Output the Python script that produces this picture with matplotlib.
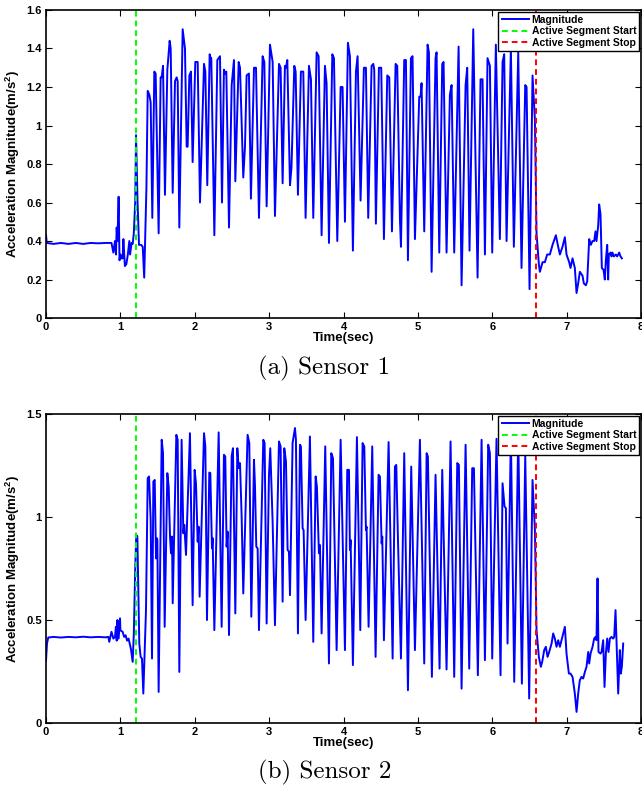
import matplotlib
matplotlib.use('Agg')
from matplotlib import pyplot as plt

plt.rcParams['font.family'] = ['Liberation Sans Narrow', 'Liberation Sans', 'DejaVu Sans']
plt.rcParams['mathtext.default'] = 'regular'

# segment markers (sec)
seg_start = 1.21
seg_stop = 6.585

# sensor 1: time (sec) and magnitude (m/s^2)
t1 = [0.0, 0.01, 0.1, 0.2, 0.3, 0.4, 0.5, 0.6, 0.7, 0.8, 0.88, 0.905, 0.927, 0.94, 0.95,
      0.96, 0.976, 0.988, 1.0, 1.01, 1.03, 1.04, 1.06, 1.08, 1.10, 1.12, 1.13, 1.15, 1.165,
      1.18, 1.20, 1.21, 1.23, 1.25, 1.28, 1.30, 1.32, 1.35, 1.367, 1.389, 1.407, 1.429,
      1.456, 1.474, 1.514, 1.541, 1.555, 1.573, 1.599, 1.631, 1.662, 1.676, 1.703, 1.734,
      1.756, 1.770, 1.792, 1.837, 1.868, 1.891, 1.904, 1.927, 1.949, 1.971, 2.007, 2.039,
      2.070, 2.092, 2.124, 2.142, 2.168, 2.200, 2.213, 2.222, 2.263, 2.303, 2.339, 2.366,
      2.392, 2.410, 2.424, 2.460, 2.496, 2.527, 2.545, 2.590, 2.608, 2.652, 2.675, 2.697,
      2.728, 2.755, 2.796, 2.823, 2.863, 2.912, 2.935, 2.966, 3.011, 3.047, 3.078, 3.132,
      3.154, 3.181, 3.212, 3.226, 3.244, 3.280, 3.300, 3.338, 3.356, 3.387, 3.427, 3.459,
      3.490, 3.535, 3.562, 3.593, 3.638, 3.665, 3.705, 3.750, 3.772, 3.804, 3.849, 3.871,
      3.916, 3.961, 3.987, 4.019, 4.059, 4.086, 4.126, 4.167, 4.189, 4.229, 4.274, 4.301,
      4.332, 4.377, 4.400, 4.413, 4.435, 4.476, 4.507, 4.543, 4.588, 4.615, 4.651, 4.700,
      4.722, 4.758, 4.772, 4.816, 4.839, 4.866, 4.906, 4.928, 4.960, 5.018, 5.036, 5.049,
      5.085, 5.130, 5.148, 5.184, 5.237, 5.251, 5.287, 5.327, 5.345, 5.385, 5.430, 5.453,
      5.488, 5.547, 5.587, 5.641, 5.663, 5.694, 5.744, 5.802, 5.842, 5.869, 5.901, 5.936,
      5.968, 5.999, 6.048, 6.102, 6.138, 6.160, 6.192, 6.250, 6.290, 6.349, 6.393, 6.443,
      6.461, 6.501, 6.541, 6.573, 6.595, 6.626, 6.640, 6.676, 6.707, 6.738, 6.774, 6.810,
      6.855, 6.886, 6.909, 6.944, 6.976, 6.998, 7.034, 7.052, 7.079, 7.110, 7.133, 7.155,
      7.177, 7.213, 7.231, 7.258, 7.276, 7.303, 7.325, 7.348, 7.370, 7.388, 7.401, 7.424,
      7.437, 7.455, 7.473, 7.496, 7.513, 7.527, 7.545, 7.558, 7.567, 7.590, 7.603, 7.616,
      7.634, 7.661, 7.679, 7.706, 7.724, 7.742]
a1 = [0.43, 0.39, 0.385, 0.39, 0.385, 0.39, 0.385, 0.39, 0.388, 0.39, 0.39, 0.34, 0.40, 0.33, 0.47,
      0.40, 0.63, 0.30, 0.33, 0.31, 0.31, 0.41, 0.27, 0.28, 0.33, 0.40, 0.33, 0.39, 0.385,
      0.44, 0.61, 0.95, 0.61, 0.38, 0.38, 0.37, 0.21, 0.68, 1.18, 1.16, 1.12, 0.52,
      1.28, 1.27, 0.44, 1.25, 1.25, 1.31, 0.64, 1.29, 1.44, 1.40, 0.65, 1.23,
      1.25, 1.23, 0.47, 1.50, 1.40, 0.89, 0.89, 1.26, 1.28, 0.81, 1.33, 1.33,
      0.60, 0.90, 1.32, 1.28, 0.69, 1.37, 1.35, 1.35, 0.43, 1.34, 1.36, 0.60,
      1.29, 1.27, 1.28, 0.47, 1.21, 1.34, 0.71, 1.33, 1.30, 0.73, 0.89, 1.26,
      1.27, 0.62, 1.30, 1.30, 0.52, 1.36, 1.33, 0.58, 1.42, 1.33, 0.53, 1.32,
      1.30, 0.70, 1.31, 1.30, 1.34, 0.69, 0.78, 1.31, 1.28, 0.64, 1.28, 1.28,
      0.52, 1.31, 1.24, 0.52, 1.38, 1.36, 0.43, 1.31, 1.22, 0.39, 1.37, 1.35,
      0.40, 1.20, 1.20, 0.50, 1.43, 1.36, 0.35, 1.28, 1.36, 0.61, 1.30, 1.30,
      0.52, 1.31, 1.32, 1.29, 0.49, 1.30, 1.30, 0.41, 1.26, 1.25, 0.45, 1.32,
      1.31, 0.52, 0.37, 1.34, 1.34, 0.30, 1.35, 1.36, 0.41, 1.15, 1.15, 1.22,
      0.45, 1.42, 1.38, 0.24, 1.35, 1.38, 0.34, 1.32, 1.33, 0.34, 1.16, 1.21,
      0.34, 1.41, 0.17, 1.21, 1.30, 0.35, 1.50, 0.21, 1.24, 1.24, 0.33, 1.35,
      1.31, 0.34, 1.42, 0.41, 1.33, 1.37, 0.40, 1.40, 0.37, 1.38, 0.26, 1.21,
      1.20, 0.15, 1.26, 1.03, 0.44, 0.28, 0.24, 0.29, 0.29, 0.33, 0.33, 0.38,
      0.43, 0.37, 0.33, 0.37, 0.42, 0.33, 0.29, 0.26, 0.31, 0.26, 0.13, 0.18,
      0.24, 0.22, 0.18, 0.17, 0.19, 0.41, 0.38, 0.40, 0.40, 0.45, 0.40, 0.48,
      0.59, 0.54, 0.26, 0.25, 0.20, 0.30, 0.38, 0.20, 0.33, 0.34, 0.32, 0.34,
      0.32, 0.33, 0.32, 0.34, 0.32, 0.31]

# sensor 2: time (sec) and magnitude (m/s^2)
t2 = [0.0, 0.013, 0.03, 0.1, 0.2, 0.3, 0.4, 0.5, 0.6, 0.7, 0.8, 0.838, 0.85, 0.88, 0.905,
      0.927, 0.94, 0.95, 0.96, 0.976, 0.995, 1.0, 1.03, 1.05, 1.07, 1.09, 1.11, 1.14, 1.165,
      1.18, 1.20, 1.213, 1.228, 1.254, 1.272, 1.290, 1.308, 1.344, 1.367, 1.385, 1.407,
      1.425, 1.443, 1.461, 1.479, 1.492, 1.497, 1.514, 1.555, 1.573, 1.595, 1.631, 1.649,
      1.667, 1.680, 1.694, 1.703, 1.752, 1.770, 1.792, 1.823, 1.846, 1.859, 1.882, 1.935,
      1.971, 1.998, 2.016, 2.039, 2.052, 2.065, 2.124, 2.142, 2.164, 2.195, 2.209, 2.231,
      2.240, 2.263, 2.321, 2.361, 2.392, 2.410, 2.428, 2.442, 2.460, 2.496, 2.513, 2.545,
      2.572, 2.590, 2.608, 2.630, 2.652, 2.710, 2.733, 2.760, 2.796, 2.809, 2.827, 2.845,
      2.863, 2.921, 2.939, 2.966, 2.997, 3.015, 3.047, 3.078, 3.132, 3.154, 3.181, 3.203,
      3.226, 3.248, 3.266, 3.280, 3.315, 3.347, 3.360, 3.387, 3.414, 3.427, 3.450, 3.463,
      3.490, 3.548, 3.593, 3.625, 3.642, 3.669, 3.683, 3.705, 3.754, 3.804, 3.835, 3.858,
      3.907, 3.961, 4.019, 4.050, 4.073, 4.086, 4.095, 4.126, 4.180, 4.225, 4.256, 4.279,
      4.301, 4.310, 4.337, 4.386, 4.431, 4.471, 4.489, 4.512, 4.521, 4.543, 4.606, 4.660,
      4.691, 4.709, 4.731, 4.772, 4.816, 4.866, 4.910, 4.960, 5.027, 5.085, 5.117, 5.134,
      5.188, 5.237, 5.291, 5.327, 5.385, 5.439, 5.488, 5.529, 5.551, 5.587, 5.641, 5.690,
      5.730, 5.753, 5.806, 5.856, 5.901, 5.945, 5.968, 5.999, 6.057, 6.111, 6.138, 6.165,
      6.183, 6.205, 6.250, 6.295, 6.349, 6.398, 6.443, 6.496, 6.541, 6.573, 6.595, 6.626,
      6.653, 6.671, 6.698, 6.720, 6.743, 6.765, 6.797, 6.819, 6.841, 6.864, 6.886, 6.909,
      6.953, 6.976, 6.998, 7.030, 7.052, 7.079, 7.110, 7.133, 7.155, 7.177, 7.200, 7.222,
      7.245, 7.267, 7.290, 7.303, 7.321, 7.348, 7.370, 7.388, 7.401, 7.415, 7.428, 7.455,
      7.469, 7.491, 7.509, 7.527, 7.545, 7.563, 7.581, 7.603, 7.625, 7.639, 7.657, 7.670,
      7.693, 7.715, 7.728, 7.742, 7.760]
a2 = [0.305, 0.386, 0.415, 0.418, 0.415, 0.418, 0.416, 0.419, 0.416, 0.418, 0.416, 0.418, 0.394, 0.443, 0.41,
      0.418, 0.467, 0.40, 0.50, 0.41, 0.508, 0.45, 0.443, 0.418, 0.426, 0.40, 0.41, 0.362, 0.297,
      0.43, 0.759, 0.913, 0.905, 0.386, 0.321, 0.313, 0.143, 0.548, 1.189, 1.197, 0.986,
      0.313, 1.172, 1.180, 0.799, 0.897, 0.889, 0.151, 1.375, 1.310, 0.467, 1.213, 1.148,
      0.905, 0.824, 0.905, 0.581, 1.399, 1.375, 0.248, 1.375, 0.921, 0.962, 0.816, 1.407,
      0.572, 1.229, 1.164, 0.880, 0.953, 0.613, 1.407, 1.343, 0.500, 1.216, 1.213, 0.848,
      0.897, 0.451, 1.411, 0.467, 1.302, 1.294, 0.856, 0.929, 0.427, 1.294, 1.334, 0.532,
      1.334, 1.237, 1.262, 1.002, 0.629, 1.399, 1.359, 0.516, 1.278, 1.156, 0.856, 0.848,
      0.451, 1.375, 1.359, 0.483, 1.197, 1.334, 0.970, 0.475, 1.367, 1.343, 0.589, 1.334,
      1.270, 0.840, 0.832, 0.621, 1.359, 1.432, 1.375, 0.435, 1.351, 1.343, 0.945, 0.937,
      0.500, 1.391, 0.394, 1.197, 1.148, 0.824, 0.864, 0.435, 1.343, 0.289, 1.310, 1.286,
      0.354, 1.375, 0.354, 1.229, 1.229, 0.840, 0.889, 0.281, 1.388, 0.451, 1.359, 1.343,
      0.937, 0.953, 0.467, 1.343, 0.321, 1.205, 1.197, 0.872, 0.905, 0.402, 1.364, 0.313,
      1.245, 1.253, 0.905, 0.313, 1.310, 0.159, 1.245, 0.354, 1.375, 0.289, 1.310, 1.294,
      0.224, 1.205, 0.264, 1.229, 0.260, 1.367, 0.224, 1.262, 1.253, 0.167, 1.351, 0.264,
      1.237, 1.237, 0.232, 1.375, 0.305, 1.351, 1.310, 0.313, 1.38, 0.232, 1.164, 1.051,
      1.043, 0.386, 1.40, 0.200, 1.40, 0.191, 1.30, 0.119, 1.180, 0.937, 0.451, 0.321,
      0.273, 0.297, 0.354, 0.370, 0.321, 0.345, 0.386, 0.435, 0.410, 0.370, 0.402, 0.370,
      0.435, 0.467, 0.337, 0.240, 0.240, 0.224, 0.143, 0.054, 0.143, 0.208, 0.224, 0.216,
      0.248, 0.273, 0.345, 0.289, 0.337, 0.370, 0.410, 0.418, 0.402, 0.702, 0.345, 0.337,
      0.345, 0.402, 0.175, 0.337, 0.410, 0.345, 0.410, 0.418, 0.410, 0.418, 0.548, 0.402,
      0.143, 0.354, 0.240, 0.273, 0.386]

panels = [
    (t1, a1, [0, 0.2, 0.4, 0.6, 0.8, 1, 1.2, 1.4, 1.6], 1.6, '(a) Sensor 1'),
    (t2, a2, [0, 0.5, 1, 1.5], 1.5, '(b) Sensor 2'),
]
x_ticks = [0, 1, 2, 3, 4, 5, 6, 7, 8]

fig = plt.figure(figsize=(6.42, 7.87), dpi=100)
boxes = [[0.0717, 0.5959, 0.9268, 0.3914], [0.0717, 0.0813, 0.9268, 0.3926]]
caption_y = [0.532, 0.019]

for (t, a, yt, ytop, cap), box, cy in zip(panels, boxes, caption_y):
    ax = fig.add_axes(box)
    ax.plot(t, a, color='#0000ff', lw=1.4, label='Magnitude')
    ax.axvline(seg_start, color='#00ff00', ls='--', lw=1.4, dashes=(3, 2), label='Active Segment Start')
    ax.axvline(seg_stop, color='#ff0000', ls='--', lw=1.4, dashes=(3, 2), label='Active Segment Stop')
    ax.set_xlim(0, 8)
    ax.set_ylim(0, ytop)
    ax.set_xticks(x_ticks)
    ax.set_yticks(yt)
    ax.set_yticklabels(['%g' % v for v in yt])
    ax.tick_params(direction='in', top=True, right=True, length=4, width=0.8,
                   labelsize=8, pad=3)
    for lab in ax.get_xticklabels() + ax.get_yticklabels():
        lab.set_fontweight('bold')
    for sp in ax.spines.values():
        sp.set_linewidth(1.2)
    ax.set_xlabel('Time(sec)', fontsize=9.5, fontweight='bold', labelpad=0)
    ax.set_ylabel('Acceleration Magnitude(m/s$^2$)', fontsize=9.5, fontweight='bold', labelpad=3)
    leg = ax.legend(loc='upper right', prop={'weight': 'bold', 'size': 7.5},
                    frameon=True, fancybox=False, framealpha=1, borderaxespad=0.15,
                    handlelength=2.6, handletextpad=0.3, borderpad=0.3, labelspacing=0.15)
    leg.get_frame().set_edgecolor('black')
    leg.get_frame().set_linewidth(1.0)
    fig.text(0.505, cy, cap, ha='center', va='center', fontsize=18, family='cmr10')

fig.savefig('out.png', dpi=100)
